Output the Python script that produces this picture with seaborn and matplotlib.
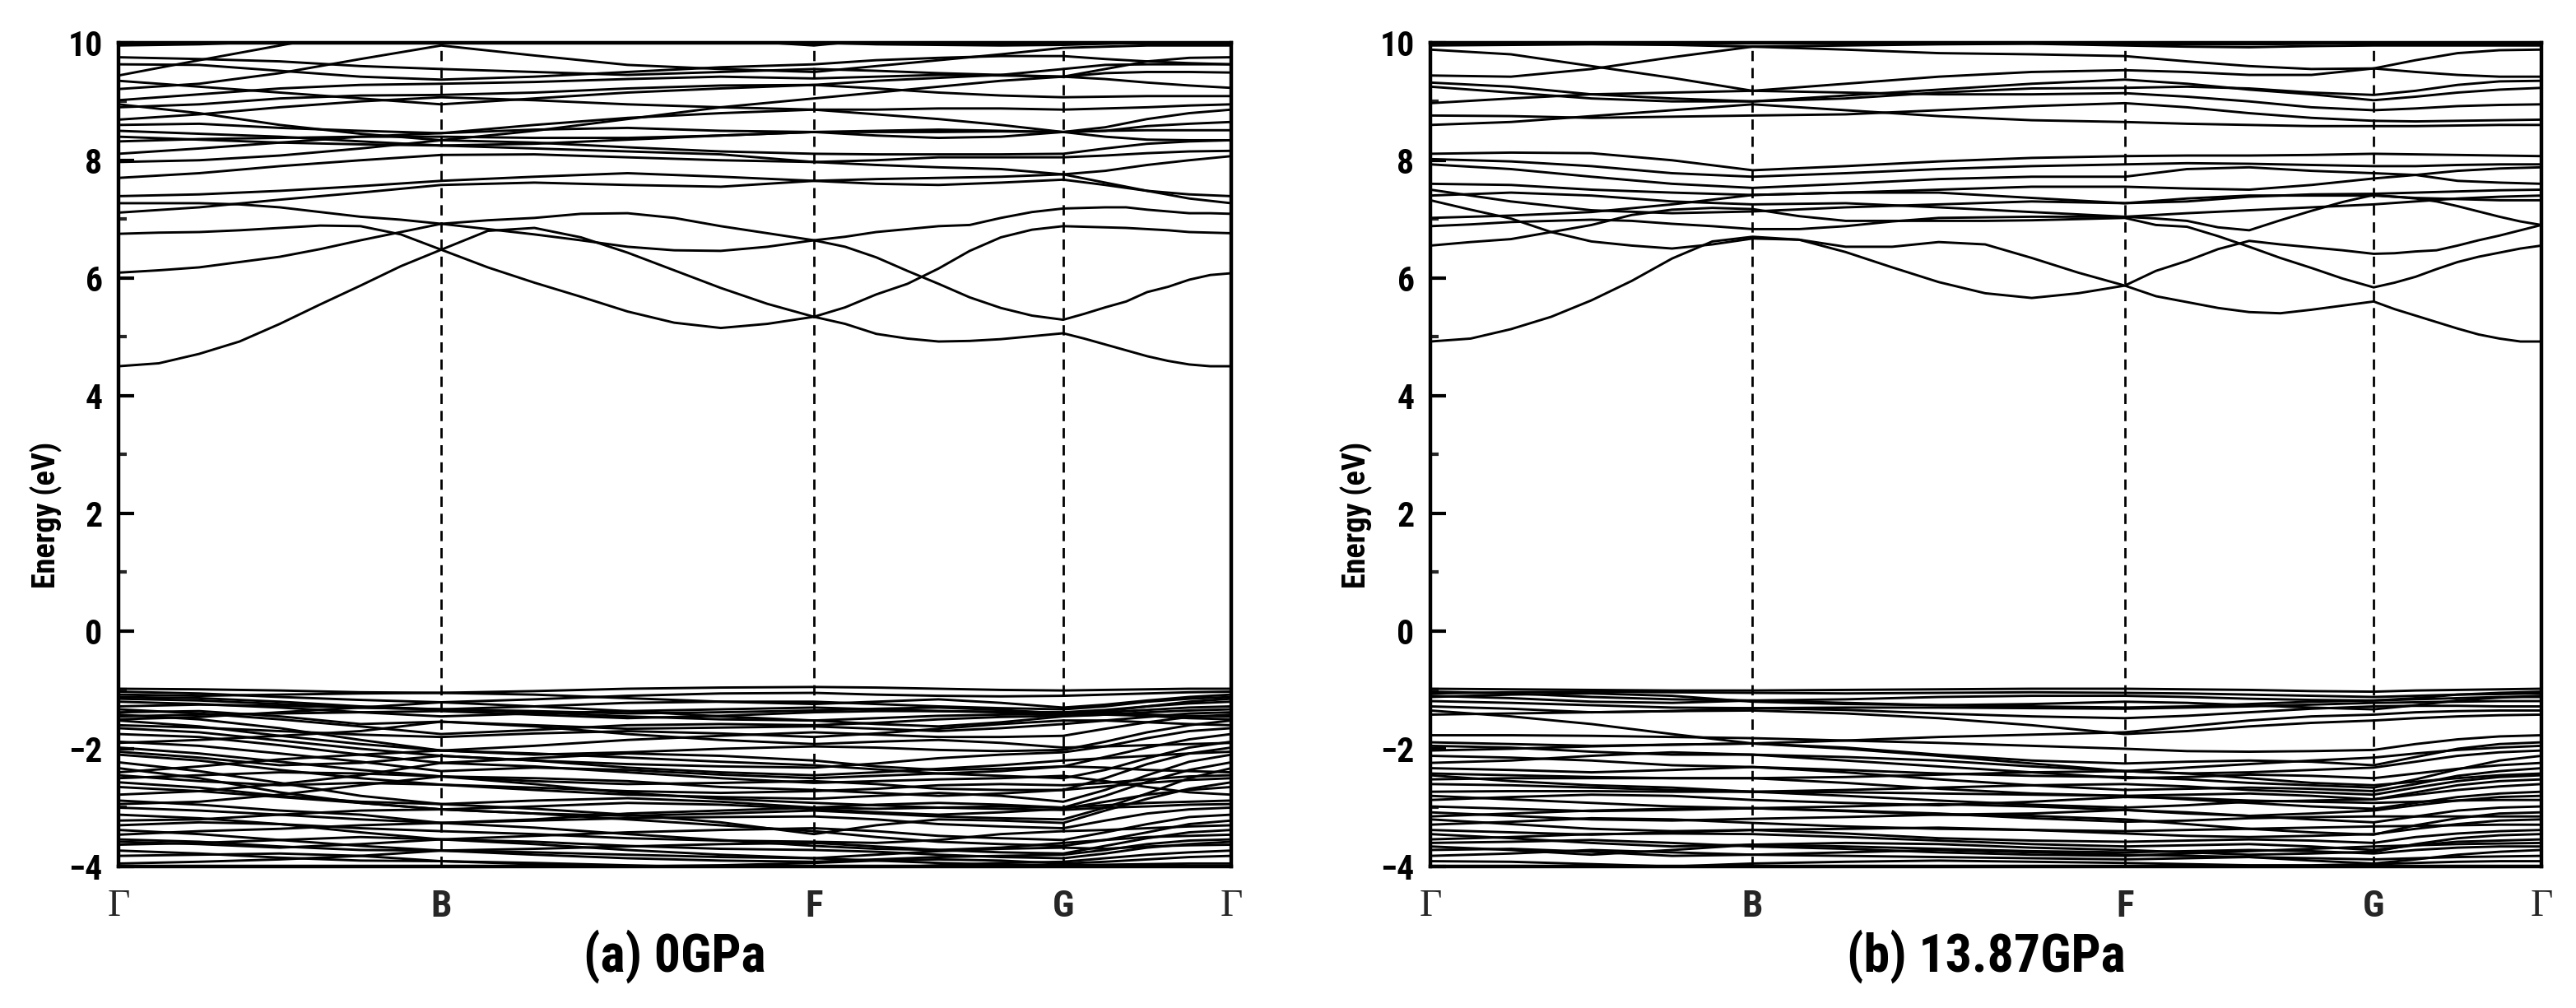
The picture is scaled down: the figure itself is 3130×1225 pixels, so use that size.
import numpy as np
import pandas as pd
import matplotlib
matplotlib.use("Agg")
import matplotlib.pyplot as plt
from matplotlib.ticker import MultipleLocator
from matplotlib import font_manager
from matplotlib.textpath import TextPath
import seaborn as sns

# ---------------- data ----------------
K_NODES = [0.0, 0.29, 0.625, 0.849, 1.0]
K_LABELS = ["\u0393", "B", "F", "G", "\u0393"]
FINE, COARSE = 8, 4          # samples per k-segment
TITLES = ["(a) 0GPa", "(b) 13.87GPa"]
Y_LABEL = "Energy (eV)"
Y_RANGE = (-4, 10)

# panel (a) 0 GPa : isolated conduction bands in the gap region (8 samples / segment)
a_cond_gap = [
    [4.50, 4.55, 4.71, 4.92, 5.22, 5.55, 5.87, 6.20, 6.48,
     6.80, 6.85, 6.69, 6.43, 6.13, 5.83, 5.56, 5.34,
     5.50, 5.72, 5.90, 6.16, 6.46, 6.69, 6.82, 6.88,
     6.87, 6.86, 6.85, 6.83, 6.81, 6.78, 6.77, 6.76],
    [6.75, 6.77, 6.78, 6.81, 6.85, 6.89, 6.88, 6.74, 6.48,
     6.18, 5.92, 5.68, 5.43, 5.24, 5.15, 5.22, 5.34,
     5.22, 5.05, 4.97, 4.92, 4.93, 4.96, 5.01, 5.06,
     4.97, 4.87, 4.77, 4.67, 4.59, 4.53, 4.50, 4.50],
    [6.09, 6.13, 6.18, 6.27, 6.36, 6.49, 6.64, 6.78, 6.92,
     6.98, 7.02, 7.09, 7.10, 7.02, 6.88, 6.76, 6.64,
     6.53, 6.35, 6.12, 5.90, 5.67, 5.49, 5.36, 5.29,
     5.39, 5.50, 5.60, 5.76, 5.85, 5.97, 6.05, 6.08],
    [7.27, 7.27, 7.27, 7.25, 7.20, 7.12, 7.04, 6.99, 6.92,
     6.83, 6.74, 6.64, 6.53, 6.47, 6.46, 6.53, 6.64,
     6.70, 6.78, 6.83, 6.88, 6.90, 7.02, 7.12, 7.18,
     7.19, 7.20, 7.20, 7.16, 7.13, 7.10, 7.10, 7.09],
]
# panel (a) : lower conduction bands at the bottom of the upper manifold (4 samples / segment)
a_cond_low = [
    [7.11, 7.20, 7.33, 7.45, 7.58, 7.62, 7.58, 7.55, 7.65, 7.68, 7.70, 7.72, 7.76, 7.62, 7.48, 7.35, 7.27],
    [7.39, 7.42, 7.48, 7.56, 7.65, 7.72, 7.78, 7.72, 7.65, 7.60, 7.58, 7.62, 7.67, 7.58, 7.48, 7.42, 7.39],
]
# panel (a) : upper conduction bands
a_cond_high = [
    [9.21, 9.30, 9.48, 9.72, 9.95, 9.78, 9.62, 9.55, 9.50, 9.60, 9.70, 9.80, 9.91, 9.93, 9.95, 9.95, 9.95],
    [9.44, 9.70, 9.95, 10.2, 10.3, 10.3, 10.2, 10.05, 9.95, 10.05, 10.1, 10.1, 10.05, 10.1, 10.15, 10.2, 10.2],
    [9.95, 9.97, 10.02, 10.1, 10.2, 10.25, 10.2, 10.1, 10.0, 9.97, 9.96, 9.95, 9.96, 9.98, 10.0, 10.02, 10.05],
    [9.63, 9.62, 9.52, 9.42, 9.37, 9.42, 9.50, 9.58, 9.63, 9.70, 9.74, 9.77, 9.77, 9.72, 9.68, 9.65, 9.63],
    [9.75, 9.72, 9.68, 9.60, 9.55, 9.50, 9.45, 9.50, 9.55, 9.52, 9.48, 9.45, 9.42, 9.55, 9.68, 9.74, 9.75],
    [9.02, 9.12, 9.22, 9.28, 9.30, 9.33, 9.38, 9.42, 9.39, 9.42, 9.45, 9.44, 9.42, 9.38, 9.32, 9.27, 9.23],
    [8.90, 8.95, 9.05, 9.10, 9.11, 9.15, 9.22, 9.27, 9.28, 9.22, 9.15, 9.10, 9.07, 9.08, 9.09, 9.09, 9.09],
    [8.69, 8.78, 8.90, 9.00, 9.07, 9.02, 8.95, 8.90, 8.86, 8.86, 8.88, 8.88, 8.86, 8.88, 8.90, 8.93, 8.95],
    [8.60, 8.62, 8.55, 8.50, 8.46, 8.60, 8.72, 8.80, 8.86, 8.78, 8.70, 8.60, 8.48, 8.56, 8.70, 8.80, 8.86],
    [8.32, 8.36, 8.38, 8.40, 8.40, 8.38, 8.38, 8.42, 8.48, 8.50, 8.52, 8.50, 8.48, 8.50, 8.58, 8.62, 8.65],
    [8.11, 8.20, 8.30, 8.40, 8.46, 8.52, 8.55, 8.50, 8.48, 8.42, 8.38, 8.40, 8.48, 8.50, 8.51, 8.51, 8.51],
    [7.97, 8.00, 8.08, 8.20, 8.34, 8.30, 8.22, 8.15, 8.11, 8.10, 8.10, 8.10, 8.11, 8.20, 8.28, 8.32, 8.34],
    [8.40, 8.35, 8.30, 8.27, 8.25, 8.20, 8.15, 8.10, 7.97, 8.00, 8.05, 8.05, 8.05, 8.08, 8.12, 8.15, 8.16],
    [7.70, 7.78, 7.90, 8.00, 8.09, 8.10, 8.05, 8.00, 7.97, 7.92, 7.88, 7.85, 7.76, 7.82, 7.92, 8.00, 8.07],
    [8.95, 8.80, 8.60, 8.45, 8.34, 8.50, 8.70, 8.90, 9.05, 9.15, 9.25, 9.35, 9.42, 9.48, 9.50, 9.50, 9.49],
    [9.35, 9.25, 9.15, 9.05, 8.95, 9.05, 9.15, 9.22, 9.28, 9.35, 9.40, 9.45, 9.55, 9.62, 9.63, 9.63, 9.63],
    [8.50, 8.45, 8.40, 8.32, 8.25, 8.28, 8.35, 8.42, 8.48, 8.48, 8.48, 8.49, 8.48, 8.40, 8.35, 8.34, 8.34],
]
# panel (a) : valence bands
a_val = [
    [-0.98, -0.99, -1.01, -1.04, -1.05, -1.02, -0.98, -0.96, -0.95, -0.96, -0.98, -1.00, -1.01, -1.00, -0.99, -0.98, -0.98],
    [-1.03, -1.06, -1.12, -1.17, -1.21, -1.16, -1.10, -1.06, -1.05, -1.08, -1.10, -1.11, -1.10, -1.08, -1.06, -1.04, -1.03],
    [-1.08, -1.10, -1.08, -1.06, -1.05, -1.08, -1.14, -1.20, -1.24, -1.20, -1.16, -1.22, -1.30, -1.25, -1.18, -1.12, -1.08],
    [-1.12, -1.14, -1.20, -1.28, -1.33, -1.28, -1.22, -1.20, -1.20, -1.24, -1.28, -1.31, -1.33, -1.28, -1.20, -1.15, -1.12],
    [-1.15, -1.18, -1.24, -1.30, -1.33, -1.36, -1.40, -1.38, -1.35, -1.32, -1.30, -1.34, -1.40, -1.36, -1.28, -1.20, -1.15],
    [-1.20, -1.24, -1.30, -1.38, -1.45, -1.40, -1.36, -1.33, -1.30, -1.33, -1.36, -1.38, -1.38, -1.34, -1.28, -1.23, -1.20],
    [-1.28, -1.25, -1.27, -1.30, -1.33, -1.38, -1.45, -1.50, -1.52, -1.48, -1.44, -1.42, -1.41, -1.38, -1.34, -1.30, -1.28],
    [-1.33, -1.40, -1.50, -1.62, -1.75, -1.68, -1.60, -1.58, -1.60, -1.56, -1.50, -1.46, -1.44, -1.42, -1.38, -1.35, -1.33],
    [-1.38, -1.36, -1.45, -1.58, -1.54, -1.60, -1.66, -1.64, -1.62, -1.66, -1.70, -1.65, -1.58, -1.52, -1.46, -1.40, -1.38],
    [-1.45, -1.42, -1.40, -1.38, -1.36, -1.42, -1.48, -1.44, -1.38, -1.36, -1.36, -1.37, -1.38, -1.40, -1.42, -1.44, -1.45],
    [-1.50, -1.46, -1.38, -1.30, -1.21, -1.28, -1.36, -1.45, -1.52, -1.58, -1.62, -1.55, -1.45, -1.42, -1.44, -1.48, -1.50],
    [-1.42, -1.50, -1.65, -1.85, -2.03, -1.95, -1.85, -1.78, -1.72, -1.76, -1.80, -1.80, -1.78, -1.66, -1.55, -1.46, -1.42],
    [-1.60, -1.64, -1.70, -1.76, -1.80, -1.74, -1.70, -1.74, -1.80, -1.74, -1.66, -1.58, -1.52, -1.52, -1.55, -1.58, -1.60],
    [-1.52, -1.62, -1.78, -1.92, -2.03, -2.10, -2.06, -2.00, -1.96, -1.98, -2.02, -2.04, -2.02, -1.88, -1.72, -1.60, -1.52],
    [-1.90, -1.85, -1.78, -1.70, -1.54, -1.62, -1.75, -1.85, -1.92, -1.88, -1.85, -1.90, -1.98, -1.96, -1.94, -1.92, -1.90],
    [-1.65, -1.72, -1.86, -2.00, -2.12, -2.20, -2.26, -2.30, -2.32, -2.25, -2.16, -2.10, -2.06, -1.96, -1.82, -1.70, -1.65],
    [-1.75, -1.80, -1.94, -2.10, -2.24, -2.16, -2.08, -2.12, -2.20, -2.30, -2.36, -2.34, -2.30, -2.14, -1.98, -1.84, -1.75],
    [-1.88, -1.95, -2.08, -2.22, -2.38, -2.32, -2.36, -2.44, -2.50, -2.46, -2.42, -2.46, -2.50, -2.36, -2.16, -1.98, -1.88],
    [-2.05, -2.15, -2.28, -2.24, -2.12, -2.20, -2.32, -2.40, -2.45, -2.40, -2.34, -2.28, -2.20, -2.16, -2.12, -2.08, -2.05],
    [-2.40, -2.30, -2.18, -2.10, -2.03, -2.08, -2.15, -2.22, -2.28, -2.35, -2.42, -2.38, -2.30, -2.32, -2.36, -2.38, -2.40],
    [-1.98, -2.08, -2.22, -2.36, -2.47, -2.55, -2.60, -2.58, -2.55, -2.60, -2.68, -2.70, -2.70, -2.50, -2.26, -2.08, -1.98],
    [-2.10, -2.20, -2.36, -2.50, -2.61, -2.70, -2.78, -2.82, -2.85, -2.80, -2.75, -2.80, -2.90, -2.70, -2.45, -2.22, -2.10],
    [-2.23, -2.38, -2.58, -2.80, -2.94, -2.88, -2.84, -2.90, -3.00, -3.02, -3.00, -2.98, -3.00, -2.80, -2.56, -2.36, -2.23],
    [-2.33, -2.50, -2.74, -2.92, -3.03, -3.10, -3.14, -3.10, -3.05, -3.10, -3.15, -3.18, -3.20, -3.00, -2.76, -2.50, -2.33],
    [-2.45, -2.55, -2.62, -2.58, -2.61, -2.66, -2.72, -2.75, -2.72, -2.68, -2.62, -2.60, -2.62, -2.58, -2.52, -2.47, -2.45],
    [-2.50, -2.45, -2.40, -2.42, -2.47, -2.50, -2.55, -2.65, -2.70, -2.75, -2.80, -2.76, -2.70, -2.64, -2.58, -2.53, -2.50],
    [-2.57, -2.66, -2.80, -2.90, -2.94, -3.02, -3.12, -3.25, -3.45, -3.30, -3.20, -3.22, -3.26, -3.05, -2.85, -2.68, -2.57],
    [-2.65, -2.72, -2.82, -2.92, -3.03, -2.98, -2.92, -2.95, -3.02, -3.08, -3.12, -3.08, -3.02, -2.90, -2.78, -2.70, -2.65],
    [-2.78, -2.72, -2.60, -2.45, -2.24, -2.30, -2.40, -2.50, -2.58, -2.55, -2.52, -2.50, -2.46, -2.55, -2.65, -2.74, -2.78],
    [-2.88, -2.95, -3.05, -3.12, -3.26, -3.20, -3.10, -3.05, -3.00, -2.95, -2.92, -2.95, -3.00, -2.96, -2.92, -2.90, -2.88],
    [-2.94, -2.90, -2.78, -2.62, -2.47, -2.60, -2.75, -2.85, -2.92, -2.96, -3.00, -3.02, -3.04, -3.00, -2.98, -2.95, -2.94],
    [-3.00, -3.05, -3.12, -3.20, -3.26, -3.22, -3.18, -3.16, -3.15, -3.20, -3.28, -3.32, -3.35, -3.22, -3.10, -3.03, -3.00],
    [-3.12, -3.18, -3.28, -3.42, -3.54, -3.48, -3.42, -3.38, -3.35, -3.40, -3.48, -3.52, -3.55, -3.42, -3.28, -3.16, -3.12],
    [-3.22, -3.20, -3.12, -3.05, -3.03, -3.10, -3.20, -3.30, -3.40, -3.50, -3.58, -3.62, -3.65, -3.55, -3.42, -3.28, -3.22],
    [-3.30, -3.25, -3.28, -3.35, -3.40, -3.45, -3.52, -3.56, -3.58, -3.60, -3.55, -3.45, -3.40, -3.38, -3.35, -3.32, -3.30],
    [-3.38, -3.45, -3.55, -3.65, -3.73, -3.70, -3.66, -3.62, -3.60, -3.66, -3.72, -3.76, -3.78, -3.65, -3.52, -3.42, -3.38],
    [-3.46, -3.40, -3.36, -3.30, -3.26, -3.34, -3.45, -3.55, -3.65, -3.70, -3.72, -3.68, -3.60, -3.55, -3.50, -3.48, -3.46],
    [-3.54, -3.58, -3.66, -3.72, -3.73, -3.80, -3.86, -3.90, -3.92, -3.88, -3.84, -3.82, -3.80, -3.72, -3.62, -3.56, -3.54],
    [-3.58, -3.62, -3.68, -3.62, -3.54, -3.58, -3.65, -3.70, -3.72, -3.75, -3.80, -3.84, -3.86, -3.78, -3.68, -3.62, -3.58],
    [-3.63, -3.60, -3.55, -3.50, -3.54, -3.62, -3.72, -3.80, -3.86, -3.80, -3.74, -3.70, -3.68, -3.70, -3.66, -3.64, -3.63],
    [-3.73, -3.78, -3.85, -3.90, -3.91, -3.94, -3.98, -4.02, -4.05, -4.02, -3.98, -3.94, -3.92, -3.86, -3.80, -3.76, -3.73],
    [-3.82, -3.80, -3.78, -3.82, -3.91, -3.96, -4.00, -3.98, -3.94, -3.90, -3.88, -3.90, -3.95, -3.92, -3.88, -3.84, -3.82],
    [-3.95, -3.92, -3.88, -3.82, -3.73, -3.76, -3.80, -3.84, -3.86, -3.90, -3.94, -3.97, -3.98, -3.97, -3.96, -3.95, -3.95],
]

# panel (b) 13.87 GPa : isolated conduction bands in the gap region (8 samples / segment)
b_cond_gap = [
    [4.92, 4.97, 5.13, 5.34, 5.62, 5.95, 6.33, 6.62, 6.70,
     6.65, 6.44, 6.18, 5.93, 5.74, 5.66, 5.74, 5.87,
     6.12, 6.29, 6.49, 6.63, 6.57, 6.52, 6.47, 6.41,
     6.42, 6.45, 6.47, 6.55, 6.64, 6.72, 6.81, 6.90],
    [7.32, 7.16, 7.01, 6.78, 6.62, 6.55, 6.50, 6.57, 6.67,
     6.65, 6.53, 6.53, 6.61, 6.57, 6.34, 6.09, 5.87,
     5.69, 5.59, 5.49, 5.42, 5.40, 5.46, 5.53, 5.60,
     5.47, 5.36, 5.25, 5.14, 5.04, 4.97, 4.92, 4.92],
    [6.88, 6.91, 6.95, 6.97, 6.99, 6.97, 6.92, 6.88, 6.83,
     6.83, 6.88, 6.96, 7.02, 7.03, 7.04, 7.04, 7.04,
     7.01, 6.97, 6.86, 6.81, 6.98, 7.14, 7.29, 7.41,
     7.38, 7.35, 7.30, 7.22, 7.13, 7.04, 6.96, 6.90],
    [6.55, 6.61, 6.66, 6.78, 6.90, 7.07, 7.16, 7.19, 7.17,
     7.05, 6.97, 6.97, 6.97, 6.97, 6.98, 7.00, 7.02,
     6.90, 6.87, 6.71, 6.53, 6.34, 6.17, 5.99, 5.84,
     5.92, 6.02, 6.15, 6.27, 6.36, 6.43, 6.50, 6.55],
]
# panel (b) : middle conduction bands (7 - 8.2 eV)
b_cond_mid = [
    [8.11, 8.13, 8.12, 8.00, 7.83, 7.90, 7.98, 8.04, 8.07, 8.08, 8.08, 8.09, 8.11, 8.10, 8.09, 8.08, 8.07],
    [8.02, 7.98, 7.90, 7.78, 7.72, 7.78, 7.85, 7.90, 7.93, 7.95, 7.94, 7.92, 7.90, 7.90, 7.92, 7.93, 7.93],
    [7.93, 7.85, 7.72, 7.60, 7.53, 7.60, 7.68, 7.72, 7.72, 7.85, 7.88, 7.82, 7.78, 7.75, 7.65, 7.62, 7.60],
    [7.60, 7.58, 7.50, 7.45, 7.41, 7.45, 7.50, 7.55, 7.55, 7.52, 7.50, 7.58, 7.69, 7.75, 7.82, 7.86, 7.88],
    [7.50, 7.30, 7.15, 7.10, 7.13, 7.20, 7.25, 7.30, 7.27, 7.30, 7.38, 7.42, 7.43, 7.45, 7.47, 7.49, 7.50],
    [7.02, 7.06, 7.12, 7.25, 7.41, 7.45, 7.45, 7.36, 7.27, 7.35, 7.40, 7.40, 7.40, 7.36, 7.34, 7.32, 7.32],
    [7.40, 7.45, 7.40, 7.30, 7.25, 7.27, 7.20, 7.12, 7.04, 7.10, 7.15, 7.20, 7.25, 7.30, 7.35, 7.38, 7.40],
]
# panel (b) : upper conduction bands
b_cond_high = [
    [9.95, 9.96, 9.97, 9.96, 9.93, 9.95, 9.97, 9.98, 9.95, 9.93, 9.92, 9.94, 9.95, 9.95, 9.95, 9.95, 9.95],
    [9.88, 9.80, 9.60, 9.40, 9.18, 9.30, 9.42, 9.50, 9.53, 9.50, 9.45, 9.45, 9.56, 9.70, 9.82, 9.87, 9.88],
    [9.44, 9.42, 9.55, 9.75, 9.93, 9.88, 9.82, 9.80, 9.77, 9.68, 9.60, 9.55, 9.56, 9.50, 9.45, 9.42, 9.42],
    [9.32, 9.25, 9.12, 9.05, 9.00, 9.05, 9.15, 9.22, 9.23, 9.25, 9.22, 9.15, 9.11, 9.18, 9.28, 9.34, 9.35],
    [9.25, 9.15, 9.05, 9.00, 9.00, 9.10, 9.20, 9.30, 9.37, 9.30, 9.20, 9.12, 9.02, 9.08, 9.15, 9.20, 9.23],
    [8.97, 9.05, 9.12, 9.15, 9.18, 9.15, 9.12, 9.12, 9.14, 9.08, 9.00, 8.90, 8.85, 8.88, 8.92, 8.94, 8.95],
    [8.76, 8.75, 8.72, 8.74, 8.76, 8.78, 8.85, 8.92, 8.97, 8.90, 8.80, 8.72, 8.67, 8.66, 8.67, 8.68, 8.69],
    [8.60, 8.65, 8.75, 8.85, 8.95, 8.85, 8.75, 8.68, 8.65, 8.62, 8.60, 8.58, 8.58, 8.58, 8.59, 8.60, 8.60],
    [10.05, 10.0, 9.98, 9.97, 9.99, 10.02, 10.05, 10.02, 9.98, 9.97, 9.97, 9.98, 10.0, 10.02, 10.03, 10.04, 10.05],
]
# panel (b) : valence bands
b_val = [
    [-0.98, -0.99, -1.00, -1.01, -1.01, -1.00, -0.99, -0.98, -0.98, -0.99, -1.00, -1.02, -1.03, -1.01, -1.00, -0.99, -0.98],
    [-1.06, -1.04, -1.03, -1.04, -1.05, -1.06, -1.05, -1.04, -1.05, -1.06, -1.08, -1.10, -1.12, -1.10, -1.08, -1.07, -1.06],
    [-1.03, -1.06, -1.12, -1.16, -1.18, -1.16, -1.12, -1.10, -1.10, -1.12, -1.15, -1.17, -1.18, -1.14, -1.08, -1.05, -1.03],
    [-1.10, -1.14, -1.20, -1.22, -1.18, -1.22, -1.26, -1.24, -1.20, -1.22, -1.26, -1.30, -1.33, -1.26, -1.18, -1.13, -1.10],
    [-1.12, -1.08, -1.06, -1.10, -1.20, -1.24, -1.26, -1.28, -1.30, -1.28, -1.24, -1.20, -1.18, -1.16, -1.14, -1.12, -1.12],
    [-1.19, -1.22, -1.26, -1.30, -1.31, -1.30, -1.30, -1.31, -1.32, -1.30, -1.28, -1.25, -1.22, -1.21, -1.20, -1.19, -1.19],
    [-1.28, -1.32, -1.38, -1.36, -1.31, -1.34, -1.40, -1.45, -1.48, -1.44, -1.38, -1.32, -1.28, -1.27, -1.27, -1.28, -1.28],
    [-1.35, -1.45, -1.58, -1.75, -1.91, -1.86, -1.80, -1.76, -1.72, -1.62, -1.52, -1.45, -1.42, -1.38, -1.36, -1.35, -1.35],
    [-1.42, -1.40, -1.38, -1.36, -1.35, -1.40, -1.48, -1.60, -1.75, -1.70, -1.62, -1.56, -1.52, -1.48, -1.45, -1.43, -1.42],
    [-1.77, -1.77, -1.78, -1.80, -1.82, -1.86, -1.90, -1.95, -2.00, -2.04, -2.05, -2.04, -2.02, -1.92, -1.84, -1.79, -1.77],
    [-1.89, -1.92, -1.95, -1.93, -1.91, -1.98, -2.10, -2.20, -2.25, -2.22, -2.20, -2.22, -2.28, -2.14, -2.00, -1.92, -1.89],
    [-1.95, -1.98, -2.05, -2.10, -2.10, -2.14, -2.20, -2.30, -2.38, -2.32, -2.26, -2.20, -2.15, -2.08, -2.02, -1.98, -1.95],
    [-2.03, -2.00, -1.96, -1.93, -1.91, -2.00, -2.12, -2.25, -2.38, -2.42, -2.40, -2.36, -2.32, -2.22, -2.12, -2.06, -2.03],
    [-2.12, -2.15, -2.20, -2.28, -2.31, -2.36, -2.42, -2.46, -2.48, -2.52, -2.58, -2.62, -2.66, -2.52, -2.35, -2.20, -2.12],
    [-2.24, -2.20, -2.12, -2.06, -2.10, -2.20, -2.30, -2.40, -2.50, -2.48, -2.44, -2.46, -2.50, -2.42, -2.34, -2.28, -2.24],
    [-2.33, -2.36, -2.40, -2.36, -2.31, -2.40, -2.52, -2.62, -2.70, -2.68, -2.66, -2.68, -2.72, -2.60, -2.46, -2.38, -2.33],
    [-2.42, -2.45, -2.48, -2.50, -2.50, -2.48, -2.44, -2.40, -2.38, -2.42, -2.50, -2.58, -2.62, -2.56, -2.50, -2.45, -2.42],
    [-2.45, -2.55, -2.62, -2.66, -2.73, -2.70, -2.66, -2.62, -2.60, -2.64, -2.70, -2.74, -2.78, -2.66, -2.55, -2.48, -2.45],
    [-2.52, -2.50, -2.50, -2.50, -2.50, -2.58, -2.68, -2.76, -2.80, -2.78, -2.76, -2.80, -2.86, -2.74, -2.62, -2.55, -2.52],
    [-2.60, -2.62, -2.66, -2.70, -2.73, -2.80, -2.88, -2.95, -3.00, -2.96, -2.90, -2.88, -2.86, -2.78, -2.70, -2.64, -2.60],
    [-2.73, -2.72, -2.72, -2.73, -2.73, -2.74, -2.76, -2.78, -2.80, -2.86, -2.92, -2.98, -3.02, -2.92, -2.82, -2.76, -2.73],
    [-2.80, -2.86, -2.92, -2.98, -3.01, -2.98, -2.94, -2.98, -3.04, -3.10, -3.14, -3.10, -3.05, -2.96, -2.88, -2.82, -2.80],
    [-2.87, -2.82, -2.78, -2.80, -2.87, -2.92, -2.96, -2.90, -2.82, -2.84, -2.88, -2.90, -2.92, -2.90, -2.88, -2.87, -2.87],
    [-2.98, -3.02, -3.06, -3.04, -3.01, -3.06, -3.12, -3.10, -3.04, -3.08, -3.14, -3.20, -3.25, -3.15, -3.05, -3.00, -2.98],
    [-3.08, -3.14, -3.20, -3.22, -3.19, -3.16, -3.12, -3.14, -3.20, -3.28, -3.36, -3.42, -3.46, -3.30, -3.18, -3.10, -3.08],
    [-3.15, -3.10, -3.05, -3.02, -3.01, -3.05, -3.10, -3.18, -3.24, -3.22, -3.18, -3.16, -3.15, -3.15, -3.15, -3.15, -3.15],
    [-3.20, -3.28, -3.36, -3.40, -3.38, -3.36, -3.34, -3.38, -3.44, -3.48, -3.50, -3.48, -3.45, -3.36, -3.28, -3.22, -3.20],
    [-3.29, -3.24, -3.18, -3.20, -3.26, -3.32, -3.36, -3.38, -3.40, -3.38, -3.36, -3.34, -3.32, -3.31, -3.30, -3.29, -3.29],
    [-3.38, -3.42, -3.46, -3.42, -3.38, -3.44, -3.52, -3.56, -3.58, -3.56, -3.54, -3.56, -3.60, -3.50, -3.44, -3.40, -3.38],
    [-3.45, -3.52, -3.60, -3.66, -3.63, -3.60, -3.62, -3.68, -3.72, -3.76, -3.80, -3.78, -3.75, -3.62, -3.52, -3.47, -3.45],
    [-3.54, -3.50, -3.45, -3.44, -3.45, -3.50, -3.56, -3.62, -3.66, -3.64, -3.62, -3.66, -3.72, -3.64, -3.58, -3.56, -3.54],
    [-3.60, -3.58, -3.55, -3.60, -3.66, -3.70, -3.76, -3.80, -3.82, -3.78, -3.74, -3.70, -3.66, -3.64, -3.62, -3.61, -3.60],
    [-3.66, -3.72, -3.80, -3.72, -3.63, -3.66, -3.70, -3.74, -3.76, -3.74, -3.72, -3.74, -3.78, -3.72, -3.68, -3.66, -3.66],
    [-3.72, -3.70, -3.75, -3.82, -3.80, -3.76, -3.72, -3.76, -3.80, -3.82, -3.84, -3.90, -3.95, -3.88, -3.80, -3.75, -3.72],
    [-3.82, -3.78, -3.72, -3.76, -3.80, -3.82, -3.84, -3.86, -3.88, -3.86, -3.84, -3.86, -3.88, -3.86, -3.84, -3.83, -3.82],
    [-3.91, -3.92, -3.96, -4.00, -3.95, -3.92, -3.90, -3.92, -3.94, -3.96, -3.98, -3.98, -3.96, -3.94, -3.92, -3.91, -3.91],
]

# ---------------- fonts ----------------
sns.set_theme(style="white")


def find_font_file(keywords_any, must_have=(), avoid=()):
    for f in font_manager.fontManager.ttflist:
        s = (f.name + " " + f.fname).lower()
        if keywords_any and not any(k in s for k in keywords_any):
            continue
        if any(m not in s for m in must_have):
            continue
        if any(a in s for a in avoid):
            continue
        return f.fname
    return None


AVOID = ("mono", "serif", "cjk", "italic", "oblique", "math")
narrow_file = None
for fam in ("liberation sans narrow", "liberationsansnarrow", "arial narrow", "arialn",
            "roboto condensed", "robotocondensed", "open sans condensed", "opensanscondensed",
            "noto sans condensed", "notosans-condensed", "dejavu sans condensed", "dejavusanscondensed"):
    narrow_file = find_font_file((fam,), must_have=("bold",), avoid=AVOID + ("semibold", "extrabold", "light"))
    if narrow_file:
        break

if narrow_file:
    BOLD_FP = font_manager.FontProperties(fname=narrow_file)
else:
    BOLD_FP = font_manager.FontProperties(family=["Liberation Sans", "DejaVu Sans"], weight="bold")

SERIF = "Liberation Serif"
plt.rcParams["font.family"] = ["Liberation Sans", "DejaVu Sans"]


def size_for_width(text, target_px, fp):
    w_em = TextPath((0, 0), text, size=1, prop=fp).get_extents().width
    return target_px / w_em * 72.0 / 100.0


TITLE_SIZE = size_for_width("(a) 0GPa", 216, BOLD_FP)
YLABEL_SIZE = size_for_width("Energy (eV)", 174, BOLD_FP)
TICK_SIZE = size_for_width("10", 37, BOLD_FP)
KLABEL_SIZE = TICK_SIZE * 1.08


def fp_size(size):
    fp = BOLD_FP.copy()
    fp.set_size(size)
    return fp

# ---------------- build frames ----------------
def k_grid(subdiv):
    parts = [np.linspace(K_NODES[i], K_NODES[i + 1], subdiv, endpoint=False)
             for i in range(len(K_NODES) - 1)]
    return np.concatenate(parts + [np.array([K_NODES[-1]])])


def bands_frame(groups):
    rows = []
    bid = 0
    for group, subdiv in groups:
        ks = k_grid(subdiv)
        for band in group:
            for k, e in zip(ks, band):
                rows.append((bid, k, e))
            bid += 1
    return pd.DataFrame(rows, columns=["band", "k", "E"])


frames = [
    bands_frame([(a_val, COARSE), (a_cond_gap, FINE), (a_cond_low, COARSE), (a_cond_high, COARSE)]),
    bands_frame([(b_val, COARSE), (b_cond_gap, FINE), (b_cond_mid, COARSE), (b_cond_high, COARSE)]),
]

# ---------------- figure ----------------
W, H = 3130, 1225
fig = plt.figure(figsize=(W / 100, H / 100), dpi=100)
axes_px = [(144, 1496), (1738, 3088)]
top_px, bot_px = 51.7, 1053
ylabel_x_px = [56, 1648]

for i, (df, (x0, x1)) in enumerate(zip(frames, axes_px)):
    ax = fig.add_axes([x0 / W, 1 - bot_px / H, (x1 - x0) / W, (bot_px - top_px) / H])
    sns.lineplot(data=df, x="k", y="E", units="band", estimator=None, sort=False,
                 color="black", linewidth=2.1, ax=ax, legend=False)
    for kv in K_NODES[1:-1]:
        ax.axvline(kv, color="black", lw=2.0, ls=(0, (4.5, 3.0)), zorder=3)
    ax.set_xlim(K_NODES[0], K_NODES[-1])
    ax.set_ylim(*Y_RANGE)
    ax.set_xlabel("")
    ax.set_ylabel("")
    for sp in ax.spines.values():
        sp.set_visible(True)
        sp.set_linewidth(3.2)
        sp.set_color("black")
    ax.yaxis.set_major_locator(MultipleLocator(2))
    ax.yaxis.set_minor_locator(MultipleLocator(1))
    ax.tick_params(axis="y", which="major", direction="in", length=14, width=3,
                   left=True, right=False, pad=14, colors="black")
    ax.tick_params(axis="y", which="minor", direction="in", length=7, width=3,
                   left=True, right=False)
    for lab in ax.get_yticklabels():
        lab.set_fontproperties(fp_size(TICK_SIZE))
    ax.set_xticks(K_NODES)
    ax.set_xticklabels(K_LABELS)
    ax.tick_params(axis="x", which="both", length=0, pad=20, bottom=True, top=False)
    for lab in ax.get_xticklabels():
        if lab.get_text() == "\u0393":
            lab.set_fontfamily(SERIF)
            lab.set_fontweight("normal")
            lab.set_fontsize(34)
        else:
            lab.set_fontproperties(fp_size(KLABEL_SIZE))
    ax.grid(False)
    fig.text(ylabel_x_px[i] / W, 1 - 626 / H, Y_LABEL, rotation=90, ha="center", va="center",
             fontproperties=fp_size(YLABEL_SIZE), color="black")
    fig.text((x0 + x1) / 2 / W, 1 - 1162 / H, TITLES[i], ha="center", va="center",
             fontproperties=fp_size(TITLE_SIZE), color="black")

fig.savefig("out.png", dpi=100, facecolor="white")
